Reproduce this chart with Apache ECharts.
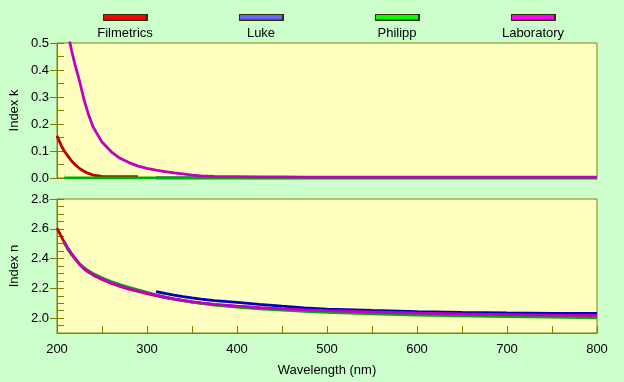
<!DOCTYPE html>
<html>
<head>
<meta charset="utf-8">
<script src="https://cdn.jsdelivr.net/npm/echarts@6/dist/echarts.min.js"></script>
<style>
  html, body { margin: 0; padding: 0; background: #CCFFCC; }
  #chart { width: 624px; height: 382px; }
</style>
</head>
<body>
<div id="chart"></div>
<script>
// ---- data ----
const seriesNames = ['Filmetrics', 'Luke', 'Philipp', 'Laboratory'];
const wavelengths = [200,205,208,212,216,220,225,230,235,240,250,260,270,280,290,300,310,320,330,340,350,360,375,400,425,450,475,500,550,600,650,700,750,800];

// extinction coefficient k
const kFilmetrics = [0.156,0.118,0.100,0.082,0.064,0.050,0.035,0.025,0.017,0.011,0.006,0.005,0.005,0.005,0.005,
  null,null,null,null,null,null,null,null,null,null,null,null,null,null,null,null,null,null,null];
const kLuke = [null,null,null,null,null,null,null,null,null,null,null,null,null,null,null,null,
  0,0,0,0,0,0,0,0,0,0,0,0,0,0,0,0,0,0];
const kPhilipp = [null,null,0,0,0,0,0,0,0,0,0,0,0,0,0,0,0,0,0,0,0,0,0,0,0,0,0,0,0,0,0,0,0,0];
const kLaboratory = [null,null,0.62,0.54,0.475,0.42,0.36,0.29,0.235,0.19,0.133,0.098,0.073,0.057,0.044,0.036,
  0.029,0.024,0.019,0.015,0.011,0.008,0.006,0.005,0.004,0.004,0.003,0.003,0.003,0.003,0.003,0.003,0.003,0.003];

// refractive index n
const nFilmetrics = [2.605,2.545,2.510,2.466,2.430,2.400,2.360,2.331,2.309,2.290,2.259,2.234,2.213,2.195,2.179,2.165,
  2.151,2.138,2.127,2.117,2.108,2.100,2.090,2.078,2.068,2.060,2.053,2.048,2.039,2.031,2.025,2.021,2.017,2.015];
const nLuke = [null,null,null,null,null,null,null,null,null,null,null,null,null,null,null,null,
  2.178,2.166,2.155,2.145,2.136,2.128,2.118,2.105,2.092,2.080,2.069,2.060,2.051,2.044,2.039,2.035,2.032,2.031];
const nPhilipp = [null,null,2.505,2.462,2.428,2.399,2.364,2.339,2.318,2.300,2.271,2.246,2.225,2.206,2.189,2.173,
  2.157,2.142,2.129,2.117,2.107,2.099,2.088,2.074,2.063,2.053,2.045,2.038,2.028,2.020,2.015,2.010,2.006,2.002];
const nLaboratory = [null,null,2.515,2.470,2.435,2.403,2.363,2.334,2.311,2.293,2.262,2.237,2.216,2.198,2.182,2.168,
  2.154,2.140,2.129,2.119,2.110,2.102,2.092,2.080,2.070,2.062,2.055,2.050,2.041,2.034,2.028,2.024,2.020,2.018];

const kTickLabels = [0.0, 0.1, 0.2, 0.3, 0.4, 0.5];
const nTickLabels = [2.0, 2.2, 2.4, 2.6, 2.8];

// ---- styles ----
const lineColors = ['#C00000', '#0000C0', '#00B000', '#C000C0'];
const swatchColors = ['#FF0000', '#6666FF', '#00FF00', '#FF00FF'];
const legendCenters = [125, 261, 397, 533];
const axisColor = '#808000';
const font = '"Liberation Sans", Arial, sans-serif';

function pairs(vals) {
  const out = [];
  for (let i = 0; i < wavelengths.length; i++) {
    if (vals[i] !== null && vals[i] !== undefined) out.push([wavelengths[i], vals[i]]);
  }
  return out;
}

const kData = [kFilmetrics, kLuke, kPhilipp, kLaboratory];
const nData = [nFilmetrics, nLuke, nPhilipp, nLaboratory];

const series = [];
seriesNames.forEach((name, i) => {
  series.push({
    name: name, type: 'line', xAxisIndex: 0, yAxisIndex: 0,
    data: pairs(kData[i]), showSymbol: false, clip: true,
    lineStyle: { color: lineColors[i], width: 2.8 }, itemStyle: { color: lineColors[i] }
  });
});
seriesNames.forEach((name, i) => {
  series.push({
    name: name, type: 'line', xAxisIndex: 1, yAxisIndex: 2,
    data: pairs(nData[i]), showSymbol: false, clip: true,
    lineStyle: { color: lineColors[i], width: 2.8 }, itemStyle: { color: lineColors[i] }
  });
});

const graphics = [];
seriesNames.forEach((name, i) => {
  const cx = legendCenters[i];
  graphics.push({ type: 'rect', left: cx - 22, top: 14, shape: { x: 0, y: 0, width: 45, height: 7 },
    style: { fill: '#303000' }, silent: true });
  graphics.push({ type: 'rect', left: cx - 21, top: 15, shape: { x: 0, y: 0, width: 42, height: 4.5 },
    style: { fill: swatchColors[i] }, silent: true });
  graphics.push({ type: 'text', x: cx, y: 33,
    style: { text: name, fill: '#000', font: '13px ' + font, textAlign: 'center', textVerticalAlign: 'middle' },
    silent: true });
});

const chart = echarts.init(document.getElementById('chart'), null, { renderer: 'canvas' });
chart.setOption({
  backgroundColor: '#CCFFCC',
  animation: false,
  textStyle: { fontFamily: font },
  graphic: graphics,
  grid: [
    { left: 57, top: 43, width: 540, height: 135, show: true, backgroundColor: '#FFFFC0', borderColor: axisColor, borderWidth: 1 },
    { left: 57, top: 199, width: 540, height: 134, show: true, backgroundColor: '#FFFFC0', borderColor: axisColor, borderWidth: 1 }
  ],
  xAxis: [
    { gridIndex: 0, type: 'value', min: 200, max: 800, interval: 50,
      axisLine: { show: true, lineStyle: { color: axisColor } },
      axisTick: { show: false }, axisLabel: { show: false }, splitLine: { show: false } },
    { gridIndex: 1, type: 'value', min: 200, max: 800, interval: 50,
      axisLine: { show: true, lineStyle: { color: axisColor } },
      axisTick: { show: true, inside: true, length: 7, lineStyle: { color: axisColor } },
      axisLabel: { margin: 10, color: '#000', fontSize: 13, fontFamily: font,
        formatter: v => (v % 100 === 0 ? String(v) : '') },
      splitLine: { show: false },
      name: 'Wavelength (nm)', nameLocation: 'middle', nameGap: 31, nameMoveOverlap: false,
      nameTextStyle: { color: '#000', fontSize: 13, fontFamily: font } }
  ],
  yAxis: [
    { gridIndex: 0, type: 'value', position: 'left', min: 0, max: 0.5, interval: 0.1,
      axisLine: { show: true, lineStyle: { color: axisColor } },
      axisTick: { show: true, inside: false, length: 7, lineStyle: { color: axisColor } },
      axisLabel: { color: '#000', fontSize: 13, fontFamily: font, margin: 8, customValues: kTickLabels,
        formatter: v => v.toFixed(1) },
      splitLine: { show: false },
      name: 'Index k', nameLocation: 'middle', nameGap: 36, nameMoveOverlap: false,
      nameTextStyle: { color: '#000', fontSize: 13, fontFamily: font } },
    { gridIndex: 0, type: 'value', position: 'left', offset: 0, min: 0, max: 0.5, interval: 0.05,
      axisLine: { show: false },
      axisTick: { show: true, inside: true, length: 7, lineStyle: { color: axisColor } },
      axisLabel: { show: false }, splitLine: { show: false } },
    { gridIndex: 1, type: 'value', position: 'left', min: 1.9, max: 2.8, interval: 0.1,
      axisLine: { show: true, lineStyle: { color: axisColor } },
      axisTick: { show: true, inside: false, length: 7, customValues: nTickLabels, lineStyle: { color: axisColor } },
      axisLabel: { color: '#000', fontSize: 13, fontFamily: font, margin: 8, customValues: nTickLabels,
        formatter: v => v.toFixed(1) },
      splitLine: { show: false },
      name: 'Index n', nameLocation: 'middle', nameGap: 36, nameMoveOverlap: false,
      nameTextStyle: { color: '#000', fontSize: 13, fontFamily: font } },
    { gridIndex: 1, type: 'value', position: 'left', offset: 0, min: 1.9, max: 2.8, interval: 0.05,
      axisLine: { show: false },
      axisTick: { show: true, inside: true, length: 7, lineStyle: { color: axisColor } },
      axisLabel: { show: false }, splitLine: { show: false } }
  ],
  series: series
});
</script>
</body>
</html>
